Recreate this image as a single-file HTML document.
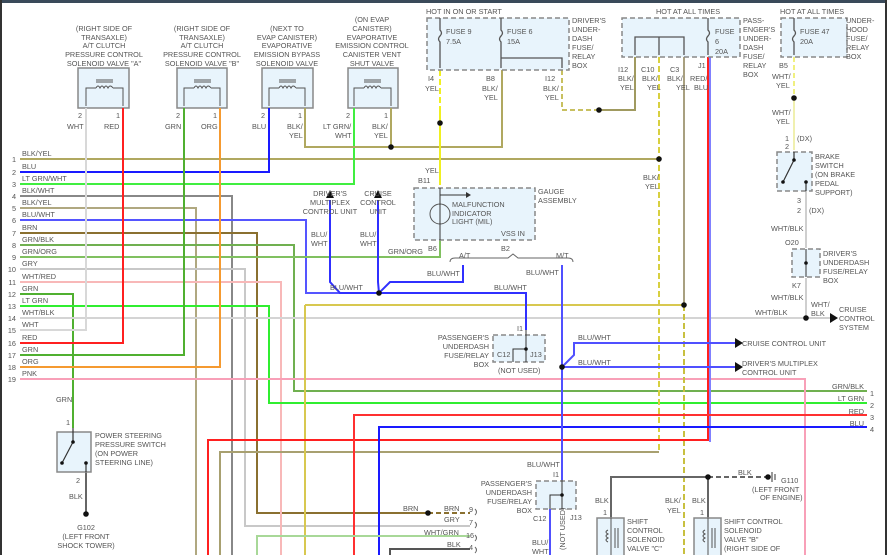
<!DOCTYPE html>
<html><head><meta charset="utf-8"><style>
html,body{margin:0;padding:0;background:#fff;width:887px;height:555px;overflow:hidden}
svg{display:block}
text{font-family:"Liberation Sans",sans-serif;font-size:7.3px;fill:#555}
.w{fill:none;stroke-width:2}
.bx{fill:#e8f4fc;stroke:#888;stroke-width:1.5}
.db{fill:#e8f4fc;stroke:#888;stroke-width:1.5;stroke-dasharray:5 3}
.d{fill:#111}
</style></head><body>
<svg width="887" height="555" viewBox="0 0 887 555" xmlns="http://www.w3.org/2000/svg">
<rect x="0" y="0" width="887" height="555" fill="#fff"/>
<rect x="0" y="0" width="887" height="3" fill="#3a4a5a"/>
<rect x="0" y="0" width="2" height="555" fill="#333"/>
<rect x="885" y="0" width="2" height="555" fill="#333"/>

<!-- top solenoid components -->
<g>
<rect class="bx" x="78" y="68" width="51" height="40"/>
<rect class="bx" x="177" y="68" width="50" height="40"/>
<rect class="bx" x="262" y="68" width="51" height="40"/>
<rect class="bx" x="348" y="68" width="50" height="40"/>
<g fill="none" stroke="#555" stroke-width="1">
<path d="M86 106V88H96M113 88H123V106M96 88q2-4 4 0q2-4 4 0q2-4 4 0q2-4 5 0M96 80H113M96 82H113"/>
<path d="M184 106V88H194M211 88H220V106M194 88q2-4 4 0q2-4 4 0q2-4 4 0q2-4 5 0M194 80H211M194 82H211"/>
<path d="M269 106V88H279M296 88H305V106M279 88q2-4 4 0q2-4 4 0q2-4 4 0q2-4 5 0M279 80H296M279 82H296"/>
<path d="M354 106V88H364M381 88H391V106M364 88q2-4 4 0q2-4 4 0q2-4 4 0q2-4 5 0M364 80H381M364 82H381"/>
</g>
</g>
<g text-anchor="middle">
<text x="104" y="31">(RIGHT SIDE OF</text><text x="104" y="40">TRANSAXLE)</text><text x="104" y="48">A/T CLUTCH</text><text x="104" y="57">PRESSURE CONTROL</text><text x="104" y="66">SOLENOID VALVE "A"</text>
<text x="202" y="31">(RIGHT SIDE OF</text><text x="202" y="40">TRANSAXLE)</text><text x="202" y="48">A/T CLUTCH</text><text x="202" y="57">PRESSURE CONTROL</text><text x="202" y="66">SOLENOID VALVE "B"</text>
<text x="287" y="31">(NEXT TO</text><text x="287" y="40">EVAP CANISTER)</text><text x="287" y="48">EVAPORATIVE</text><text x="287" y="57">EMISSION BYPASS</text><text x="287" y="66">SOLENOID VALVE</text>
<text x="372" y="22">(ON EVAP</text><text x="372" y="31">CANISTER)</text><text x="372" y="40">EVAPORATIVE</text><text x="372" y="48">EMISSION CONTROL</text><text x="372" y="57">CANISTER VENT</text><text x="372" y="66">SHUT VALVE</text>
</g>
<text x="78" y="118">2</text><text x="116" y="118">1</text><text x="67" y="129">WHT</text><text x="104" y="129">RED</text>
<text x="176" y="118">2</text><text x="213" y="118">1</text><text x="165" y="129">GRN</text><text x="201" y="129">ORG</text>
<text x="261" y="118">2</text><text x="298" y="118">1</text><text x="252" y="129">BLU</text><text x="287" y="129">BLK/</text><text x="289" y="138">YEL</text>
<text x="346" y="118">2</text><text x="384" y="118">1</text><text x="323" y="129">LT GRN/</text><text x="335" y="138">WHT</text><text x="372" y="129">BLK/</text><text x="374" y="138">YEL</text>

<!-- left harness wires -->
<g class="w">
<path d="M20 159H659" stroke="#b0a860"/>
<path d="M20 172H269V108" stroke="#1a1aff"/>
<path d="M20 184H354V108" stroke="#40ee40"/>
<path d="M20 196H232V555" stroke="#888"/>
<path d="M20 208H196V555" stroke="#b0a880"/>
<path d="M20 220H306V293H379" stroke="#5555ff"/>
<path d="M20 233H257V513H428" stroke="#8a7030"/>
<path d="M428 513H470" stroke="#8a7030" stroke-dasharray="5 3"/>
<path d="M20 245H294V391H867" stroke="#70b050"/>
<path d="M20 257H440V240" stroke="#80c060"/>
<path d="M20 269H245V526H470" stroke="#c8c8c8"/>
<path d="M20 282H281V555" stroke="#f8b8b8"/>
<path d="M20 294H73V428" stroke="#50b030"/>
<path d="M20 306H269V403H867" stroke="#30ee30"/>
<path d="M20 318H830" stroke="#d4d4d4"/>
<path d="M20 330H86V108" stroke="#d8d8d8"/>
<path d="M20 343H123V108" stroke="#ff2020"/>
<path d="M20 355H184V108" stroke="#50b030"/>
<path d="M20 367H220V108" stroke="#f59a30"/>
<path d="M20 379H805V555" stroke="#f8a0b8"/>
<path d="M305 108V147H502V70M391 108V147" stroke="#b0a860"/>
<path d="M440 70V110" stroke="#f0f020" stroke-dasharray="6 3"/>
<path d="M440 110V185" stroke="#f0f020"/>
<path d="M562 70V110H599" stroke="#c8c060" stroke-dasharray="5 3"/>
<path d="M599 110H635V57" stroke="#a09a60"/>
<path d="M659 57V452" stroke="#d8d040" stroke-dasharray="6 3"/>
<path d="M659 452H220V555" stroke="#a8a070"/>
<path d="M684 57V305" stroke="#a8a080"/>
<path d="M684 305V555" stroke="#c8c040" stroke-dasharray="6 3"/>
<path d="M305 305H684M305 305V555" stroke="#d8c850"/>
<path d="M710 57V442" stroke="#8080ff"/>
<path d="M708 57V440H208V555" stroke="#ff2020"/>
<path d="M354 555V415H867" stroke="#ff3030"/>
<path d="M379 555V427H867" stroke="#1a1aff"/>
<path d="M257 555V536H470" stroke="#a8d898"/>
<path d="M390 555V549H470" stroke="#555"/>
<path d="M330 200V282L340 293H379M378 200V282L379 293M379 293H526V330M379 293L390 282H463V265" stroke="#3030ff"/>
<path d="M562 265V480M562 367H735M562 367L574 355V343H735M550 509V555" stroke="#5050ff"/>
<path d="M794 57V98" stroke="#f0f080" stroke-dasharray="5 3"/>
<path d="M794 98V150" stroke="#f0f0b0"/>
<path d="M806 191V248M806 278V318H830" stroke="#cfcfcf"/>
<path d="M611 518V477H708V518" stroke="#666"/>
<path d="M708 477H768" stroke="#666" stroke-dasharray="5 3"/>
<path d="M86 472V513" stroke="#666"/>
<path d="M513 232V240" stroke="#7070ff"/>
</g>
<path d="M450 262q0-4 5-4H508l5-4l5 4H568q5 0 5 4" fill="none" stroke="#666"/>
<g class="d">
<circle cx="391" cy="147" r="2.8"/><circle cx="440" cy="123" r="2.8"/><circle cx="599" cy="110" r="2.8"/>
<circle cx="659" cy="159" r="2.8"/><circle cx="684" cy="305" r="2.8"/><circle cx="379" cy="293" r="2.8"/>
<circle cx="562" cy="367" r="2.8"/><circle cx="794" cy="98" r="2.8"/><circle cx="806" cy="318" r="2.8"/>
<circle cx="428" cy="513" r="2.8"/><circle cx="708" cy="477" r="2.8"/><circle cx="768" cy="477" r="2.8"/>
<circle cx="86" cy="514" r="2.8"/>
<path d="M330 190l-4 8h8zM378 190l-4 8h8zM735 338l8 5l-8 5zM735 362l8 5l-8 5zM830 313l8 5l-8 5z"/>
</g>
<path d="M772 472V482M775 474V480" stroke="#333"/>

<!-- row labels -->
<g text-anchor="end">
<text x="16" y="162">1</text><text x="16" y="175">2</text><text x="16" y="187">3</text><text x="16" y="199">4</text><text x="16" y="211">5</text><text x="16" y="223">6</text><text x="16" y="236">7</text><text x="16" y="248">8</text><text x="16" y="260">9</text><text x="16" y="272">10</text><text x="16" y="285">11</text><text x="16" y="297">12</text><text x="16" y="309">13</text><text x="16" y="321">14</text><text x="16" y="333">15</text><text x="16" y="346">16</text><text x="16" y="358">17</text><text x="16" y="370">18</text><text x="16" y="382">19</text>
</g>
<text x="22" y="156">BLK/YEL</text><text x="22" y="169">BLU</text><text x="22" y="181">LT GRN/WHT</text><text x="22" y="193">BLK/WHT</text><text x="22" y="205">BLK/YEL</text><text x="22" y="217">BLU/WHT</text><text x="22" y="230">BRN</text><text x="22" y="242">GRN/BLK</text><text x="22" y="254">GRN/ORG</text><text x="22" y="266">GRY</text><text x="22" y="279">WHT/RED</text><text x="22" y="291">GRN</text><text x="22" y="303">LT GRN</text><text x="22" y="315">WHT/BLK</text><text x="22" y="327">WHT</text><text x="22" y="340">RED</text><text x="22" y="352">GRN</text><text x="22" y="364">ORG</text><text x="22" y="376">PNK</text>

<!-- fuse boxes -->
<rect class="db" x="427" y="18" width="142" height="52"/>
<rect class="db" x="622" y="18" width="118" height="39"/>
<rect class="db" x="781" y="18" width="66" height="39"/>
<g fill="none" stroke="#555" stroke-width="1.3">
<path d="M440 18V30q3 3 0 6q-3 3 0 6V68M501 18V30q3 3 0 6q-3 3 0 6V68M501 58H562V68M708 18V30q3 3 0 6q-3 3 0 6V55M794 18V30q3 3 0 6q-3 3 0 6V55M635 55V37H684V55M659 55V37"/>
</g>
<text x="426" y="14">HOT IN ON OR START</text><text x="656" y="14">HOT AT ALL TIMES</text><text x="780" y="14">HOT AT ALL TIMES</text>
<text x="446" y="34">FUSE 9</text><text x="446" y="44">7.5A</text><text x="507" y="34">FUSE 6</text><text x="507" y="44">15A</text>
<text x="572" y="23">DRIVER'S</text><text x="572" y="32">UNDER-</text><text x="572" y="41">DASH</text><text x="572" y="50">FUSE/</text><text x="572" y="59">RELAY</text><text x="572" y="68">BOX</text>
<text x="715" y="34">FUSE</text><text x="715" y="44">6</text><text x="715" y="54">20A</text>
<text x="743" y="23">PASS-</text><text x="743" y="32">ENGER'S</text><text x="743" y="41">UNDER-</text><text x="743" y="50">DASH</text><text x="743" y="59">FUSE/</text><text x="743" y="68">RELAY</text><text x="743" y="77">BOX</text>
<text x="800" y="34">FUSE 47</text><text x="800" y="44">20A</text>
<text x="846" y="23">UNDER-</text><text x="846" y="32">HOOD</text><text x="846" y="41">FUSE/</text><text x="846" y="50">RELAY</text><text x="846" y="59">BOX</text>
<text x="428" y="81">I4</text><text x="425" y="91">YEL</text><text x="486" y="81">B8</text><text x="482" y="91">BLK/</text><text x="484" y="100">YEL</text>
<text x="545" y="81">I12</text><text x="543" y="91">BLK/</text><text x="545" y="100">YEL</text>
<text x="618" y="72">I12</text><text x="618" y="81">BLK/</text><text x="620" y="90">YEL</text>
<text x="641" y="72">C10</text><text x="642" y="81">BLK/</text><text x="647" y="90">YEL</text>
<text x="670" y="72">C3</text><text x="667" y="81">BLK/</text><text x="676" y="90">YEL</text>
<text x="698" y="68">J1</text><text x="690" y="81">RED/</text><text x="694" y="90">BLU</text>
<text x="779" y="68">B5</text><text x="772" y="79">WHT/</text><text x="776" y="88">YEL</text><text x="772" y="115">WHT/</text><text x="776" y="124">YEL</text>
<text x="643" y="180">BLK/</text><text x="645" y="189">YEL</text>

<!-- brake switch etc -->
<rect class="db" x="777" y="152" width="35" height="39"/>
<path d="M794 152V160L783 182M806 191V182" stroke="#333" fill="none" stroke-width="1.2"/>
<circle cx="794" cy="160" r="1.8" class="d"/><circle cx="783" cy="182" r="1.8" class="d"/><circle cx="806" cy="182" r="1.8" class="d"/>
<text x="785" y="141">1</text><text x="785" y="149">2</text><text x="797" y="141">(DX)</text>
<text x="815" y="159">BRAKE</text><text x="815" y="168">SWITCH</text><text x="815" y="177">(ON BRAKE</text><text x="815" y="186">PEDAL</text><text x="815" y="195">SUPPORT)</text>
<text x="797" y="203">3</text><text x="797" y="213">2</text><text x="809" y="213">(DX)</text><text x="771" y="231">WHT/BLK</text><text x="785" y="245">O20</text>
<rect class="db" x="792" y="249" width="28" height="28"/><path d="M806 249V277" stroke="#333"/><circle cx="806" cy="263" r="1.8" class="d"/>
<text x="823" y="256">DRIVER'S</text><text x="823" y="265">UNDERDASH</text><text x="823" y="274">FUSE/RELAY</text><text x="823" y="283">BOX</text>
<text x="792" y="288">K7</text><text x="771" y="300">WHT/BLK</text><text x="811" y="307">WHT/</text><text x="811" y="316">BLK</text><text x="755" y="315">WHT/BLK</text>
<text x="839" y="312">CRUISE</text><text x="839" y="321">CONTROL</text><text x="839" y="330">SYSTEM</text>

<!-- gauge -->
<rect class="db" x="414" y="188" width="121" height="52"/>
<circle cx="440" cy="214" r="10" fill="none" stroke="#555"/><path d="M440 188V240M440 195H468" stroke="#333"/><path d="M466 192l5 3l-5 3z" fill="#333"/>
<text x="425" y="173">YEL</text><text x="418" y="183">B11</text>
<text x="452" y="207">MALFUNCTION</text><text x="452" y="216">INDICATOR</text><text x="452" y="224">LIGHT (MIL)</text>
<text x="538" y="194">GAUGE</text><text x="538" y="203">ASSEMBLY</text><text x="501" y="236">VSS IN</text>
<text x="428" y="251">B6</text><text x="501" y="251">B2</text><text x="388" y="254">GRN/ORG</text><text x="459" y="258">A/T</text><text x="556" y="258">M/T</text>
<text x="427" y="276">BLU/WHT</text><text x="526" y="275">BLU/WHT</text><text x="494" y="290">BLU/WHT</text><text x="330" y="290">BLU/WHT</text>
<g text-anchor="middle"><text x="330" y="196">DRIVER'S</text><text x="330" y="205">MULTIPLEX</text><text x="330" y="214">CONTROL UNIT</text><text x="378" y="196">CRUISE</text><text x="378" y="205">CONTROL</text><text x="378" y="214">UNIT</text></g>
<text x="311" y="237">BLU/</text><text x="311" y="246">WHT</text><text x="360" y="237">BLU/</text><text x="360" y="246">WHT</text>

<!-- passenger box 1 -->
<rect class="db" x="493" y="335" width="52" height="27"/>
<path d="M526 330V362M526 349H513V362" stroke="#333" fill="none"/><circle cx="526" cy="349" r="1.8" class="d"/>
<text x="517" y="331">I1</text><text x="497" y="357">C12</text><text x="530" y="357">J13</text><text x="498" y="373">(NOT USED)</text>
<g text-anchor="end"><text x="489" y="340">PASSENGER'S</text><text x="489" y="349">UNDERDASH</text><text x="489" y="358">FUSE/RELAY</text><text x="489" y="367">BOX</text></g>
<text x="578" y="340">BLU/WHT</text><text x="578" y="365">BLU/WHT</text>
<text x="742" y="346">CRUISE CONTROL UNIT</text><text x="742" y="366">DRIVER'S MULTIPLEX</text><text x="742" y="375">CONTROL UNIT</text>
<g text-anchor="end"><text x="864" y="389">GRN/BLK</text><text x="864" y="401">LT GRN</text><text x="864" y="414">RED</text><text x="864" y="426">BLU</text></g>
<text x="870" y="396">1</text><text x="870" y="408">2</text><text x="870" y="420">3</text><text x="870" y="432">4</text>

<!-- PS switch -->
<rect class="bx" x="57" y="432" width="34" height="40"/>
<path d="M73 428V442L62 463M86 462V472" stroke="#333" fill="none" stroke-width="1.2"/>
<circle cx="73" cy="442" r="1.8" class="d"/><circle cx="62" cy="463" r="1.8" class="d"/><circle cx="86" cy="463" r="1.8" class="d"/>
<text x="56" y="402">GRN</text><text x="66" y="425">1</text><text x="76" y="483">2</text><text x="69" y="499">BLK</text>
<text x="95" y="438">POWER STEERING</text><text x="95" y="447">PRESSURE SWITCH</text><text x="95" y="456">(ON POWER</text><text x="95" y="465">STEERING LINE)</text>
<g text-anchor="middle"><text x="86" y="530">G102</text><text x="86" y="539">(LEFT FRONT</text><text x="86" y="548">SHOCK TOWER)</text></g>

<!-- bottom -->
<text x="403" y="511">BRN</text><text x="444" y="511">BRN</text><text x="444" y="522">GRY</text><text x="424" y="535">WHT/GRN</text><text x="447" y="547">BLK</text>
<text x="469" y="512">9</text><text x="469" y="525">7</text><text x="466" y="538">16</text><text x="469" y="550">4</text>
<path d="M475 509q3 3 0 6M475 522q3 3 0 6M475 535q3 3 0 6M475 547q3 3 0 6" stroke="#666" fill="none"/>
<text x="527" y="467">BLU/WHT</text><text x="553" y="477">I1</text>
<rect class="db" x="536" y="481" width="40" height="28"/>
<path d="M562 480V509M562 495H550V509" stroke="#333" fill="none"/><circle cx="562" cy="495" r="1.8" class="d"/>
<g text-anchor="end"><text x="532" y="486">PASSENGER'S</text><text x="532" y="495">UNDERDASH</text><text x="532" y="504">FUSE/RELAY</text><text x="532" y="513">BOX</text></g>
<text x="533" y="521">C12</text><text x="570" y="520">J13</text><text x="532" y="545">BLU/</text><text x="532" y="554">WHT</text>
<text transform="translate(565,550) rotate(-90)">(NOT USED)</text>
<text x="595" y="503">BLK</text><text x="603" y="515">1</text><text x="665" y="503">BLK/</text><text x="667" y="513">YEL</text><text x="692" y="503">BLK</text><text x="700" y="515">1</text>
<text x="738" y="475">BLK</text><text x="781" y="483">G110</text><text x="752" y="492">(LEFT FRONT</text><text x="760" y="500">OF ENGINE)</text>
<rect class="bx" x="597" y="518" width="27" height="40"/><rect class="bx" x="694" y="518" width="27" height="40"/>
<path d="M611 518V555M608 530q-4 2 0 4q-4 2 0 4q-4 2 0 4M615 528V548M618 528V548M708 518V555M705 530q-4 2 0 4q-4 2 0 4q-4 2 0 4M712 528V548M715 528V548" stroke="#555" fill="none"/>
<text x="627" y="524">SHIFT</text><text x="627" y="533">CONTROL</text><text x="627" y="542">SOLENOID</text><text x="627" y="551">VALVE "C"</text>
<text x="724" y="524">SHIFT CONTROL</text><text x="724" y="533">SOLENOID</text><text x="724" y="542">VALVE "B"</text><text x="724" y="551">(RIGHT SIDE OF</text>
</svg>
</body></html>
